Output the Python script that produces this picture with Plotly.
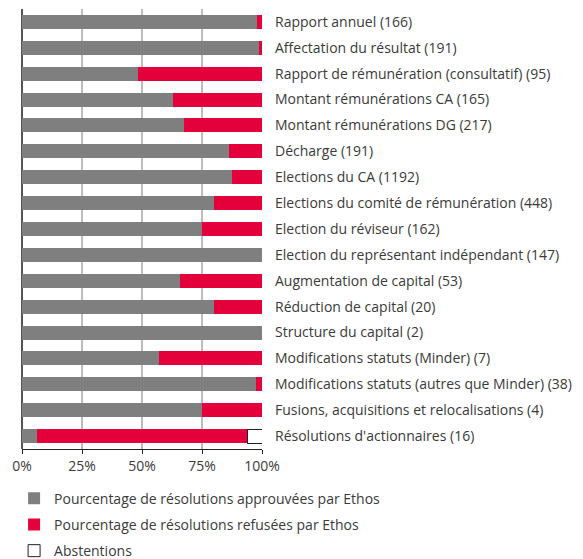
import plotly.graph_objects as go

categories = [
    "Rapport annuel (166)",
    "Affectation du résultat (191)",
    "Rapport de rémunération (consultatif) (95)",
    "Montant rémunérations CA (165)",
    "Montant rémunérations DG (217)",
    "Décharge (191)",
    "Elections du CA (1192)",
    "Elections du comité de rémunération (448)",
    "Election du réviseur (162)",
    "Election du représentant indépendant (147)",
    "Augmentation de capital (53)",
    "Réduction de capital (20)",
    "Structure du capital (2)",
    "Modifications statuts (Minder) (7)",
    "Modifications statuts (autres que Minder) (38)",
    "Fusions, acquisitions et relocalisations (4)",
    "Résolutions d'actionnaires (16)",
]
approved = [98.0, 98.9, 48.4, 63.0, 67.7, 86.4, 87.5, 79.9, 75.0, 100.0, 66.0, 80.0, 100.0, 57.1, 97.4, 75.0, 6.25]
refused = [2.0, 1.1, 51.6, 37.0, 32.3, 13.6, 12.5, 20.1, 25.0, 0.0, 34.0, 20.0, 0.0, 42.9, 2.6, 25.0, 87.5]
abstentions = [0, 0, 0, 0, 0, 0, 0, 0, 0, 0, 0, 0, 0, 0, 0, 0, 6.25]

tick_vals = [0, 25, 50, 75, 100]
tick_text = ["0%", "25%", "50%", "75%", "100%"]

FONT = "Open Sans"
TXT = "#3a3a3a"
fig = go.Figure()
fig.add_trace(go.Bar(y=categories, x=approved, orientation="h", name="Pourcentage de résolutions approuvées par Ethos",
                     marker=dict(color="#7f7f7f", line=dict(width=0)), legendgroup="a", hoverinfo="x+y"))
fig.add_trace(go.Bar(y=categories, x=refused, orientation="h", name="Pourcentage de résolutions refusées par Ethos",
                     marker=dict(color="#e4003a", line=dict(width=0)), legendgroup="b", hoverinfo="x+y"))
fig.add_trace(go.Bar(y=categories, x=abstentions, orientation="h", name="Abstentions",
                     marker=dict(color="#ffffff", line=dict(width=1, color="#222222")), legendgroup="c", hoverinfo="x+y"))

fig.update_layout(
    barmode="stack",
    bargap=0.46,
    width=575, height=551,
    margin=dict(l=14, r=321, t=1, b=110, autoexpand=False),
    paper_bgcolor="white", plot_bgcolor="white",
    font=dict(family=FONT, size=14, color=TXT),
    showlegend=True,
    legend=dict(orientation="v", x=-0.033, xanchor="left", y=-0.0765, yanchor="top",
                traceorder="grouped", tracegroupgap=5, font=dict(size=14, color=TXT),
                itemwidth=30, bgcolor="rgba(0,0,0,0)"),
    xaxis=dict(range=[0, 100], tickvals=tick_vals, ticktext=tick_text, showgrid=True,
               gridcolor="#bdbdbd", gridwidth=1.5, zeroline=True, zerolinecolor="#555555", zerolinewidth=1.5,
               showline=True, linecolor="#222222", linewidth=1, ticks="outside", ticklen=4,
               tickcolor="#222222", tickfont=dict(size=14, color=TXT), fixedrange=True),
    yaxis=dict(categoryorder="array", categoryarray=categories, autorange="reversed",
               side="right", showgrid=False, showline=False, ticks="", ticklabelstandoff=12,
               tickfont=dict(size=14, color=TXT), fixedrange=True),
)

fig.write_html("out.html")
